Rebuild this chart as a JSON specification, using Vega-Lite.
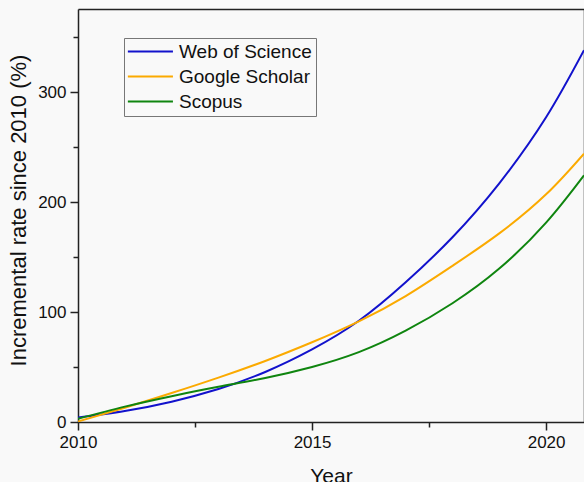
{
  "$schema": "https://vega.github.io/schema/vega-lite/v6.json",
  "width": 506,
  "height": 413,
  "autosize": {"type": "none"},
  "padding": {"left": 78, "top": 9, "right": 0, "bottom": 60},
  "background": "#f9f9f9",
  "config": {
    "view": {"stroke": null},
    "font": "Liberation Sans",
    "axis": {"grid": false, "domainColor": "#222222", "tickColor": "#222222", "domainWidth": 1.5, "tickWidth": 1.5, "labelColor": "#111111", "titleColor": "#111111", "labelFont": "Liberation Sans", "titleFont": "Liberation Sans", "titleFontWeight": "normal"}
  },
  "data": {
    "values": [
      {"year": 2010, "source": "Web of Science", "value": 4},
      {"year": 2011, "source": "Web of Science", "value": 10},
      {"year": 2012, "source": "Web of Science", "value": 18.5},
      {"year": 2013, "source": "Web of Science", "value": 30},
      {"year": 2014, "source": "Web of Science", "value": 45.5},
      {"year": 2015, "source": "Web of Science", "value": 66},
      {"year": 2016, "source": "Web of Science", "value": 92},
      {"year": 2017, "source": "Web of Science", "value": 127},
      {"year": 2018, "source": "Web of Science", "value": 168},
      {"year": 2019, "source": "Web of Science", "value": 217},
      {"year": 2020, "source": "Web of Science", "value": 277},
      {"year": 2020.81, "source": "Web of Science", "value": 338},
      {"year": 2010, "source": "Google Scholar", "value": 0.5},
      {"year": 2011, "source": "Google Scholar", "value": 13},
      {"year": 2012, "source": "Google Scholar", "value": 26.3},
      {"year": 2013, "source": "Google Scholar", "value": 40.3},
      {"year": 2014, "source": "Google Scholar", "value": 55.5},
      {"year": 2015, "source": "Google Scholar", "value": 72.5},
      {"year": 2016, "source": "Google Scholar", "value": 91.5},
      {"year": 2017, "source": "Google Scholar", "value": 114.5},
      {"year": 2018, "source": "Google Scholar", "value": 142},
      {"year": 2019, "source": "Google Scholar", "value": 171.5},
      {"year": 2020, "source": "Google Scholar", "value": 207},
      {"year": 2020.81, "source": "Google Scholar", "value": 244},
      {"year": 2010, "source": "Scopus", "value": 3},
      {"year": 2011, "source": "Scopus", "value": 14},
      {"year": 2012, "source": "Scopus", "value": 23.5},
      {"year": 2013, "source": "Scopus", "value": 32},
      {"year": 2014, "source": "Scopus", "value": 40},
      {"year": 2015, "source": "Scopus", "value": 50},
      {"year": 2016, "source": "Scopus", "value": 63.5},
      {"year": 2017, "source": "Scopus", "value": 83},
      {"year": 2018, "source": "Scopus", "value": 108},
      {"year": 2019, "source": "Scopus", "value": 139.5},
      {"year": 2020, "source": "Scopus", "value": 181.3},
      {"year": 2020.81, "source": "Scopus", "value": 224.3}
    ]
  },
  "encoding": {
    "x": {"field": "year", "type": "quantitative", "scale": {"domain": [2010, 2020.81], "nice": false, "zero": false}},
    "y": {"field": "value", "type": "quantitative", "scale": {"domain": [0, 375.5], "nice": false}}
  },
  "layer": [
    {
      "mark": {"type": "line", "interpolate": "natural", "strokeWidth": 2, "clip": true},
      "encoding": {
        "x": {"field": "year", "type": "quantitative", "axis": {"orient": "bottom", "values": [2010, 2015, 2020], "format": "d", "labelFontSize": 17, "tickSize": 8, "labelPadding": 4, "title": "Year", "titleFontSize": 21, "titleY": 60, "titleBaseline": "alphabetic", "labelFlush": false}},
        "y": {"field": "value", "type": "quantitative", "axis": {"orient": "left", "values": [0, 100, 200, 300], "labelFontSize": 17, "tickSize": 8, "labelPadding": 4, "title": "Incremental rate since 2010 (%)", "titleFontSize": 22, "titleX": -53, "titleY": 201, "titleBaseline": "alphabetic", "titleAnchor": "middle"}},
        "color": {
          "field": "source", "type": "nominal",
          "scale": {"domain": ["Web of Science", "Google Scholar", "Scopus"], "range": ["#1212cc", "#fbaa00", "#0f850f"]},
          "legend": {"orient": "none", "legendX": 46, "legendY": 29, "title": null, "symbolType": "M-1,0H7", "symbolSize": 127, "symbolStrokeWidth": 2, "symbolOffset": -4, "labelFontSize": 19, "labelFont": "Liberation Sans", "labelColor": "#111111", "labelOffset": 36, "strokeColor": "#777777", "padding": 4, "rowPadding": 5, "fillColor": "#f9f9f9"}
        }
      }
    },
    {
      "mark": {"type": "point", "opacity": 0},
      "encoding": {
        "x": {"field": "year", "type": "quantitative", "axis": {"orient": "bottom", "values": [2012.5, 2017.5], "labels": false, "domain": false, "tickSize": 5, "title": null}},
        "y": {"field": "value", "type": "quantitative", "axis": {"orient": "left", "values": [50, 150, 250, 350], "labels": false, "domain": false, "tickSize": 5, "title": null}}
      }
    },
    {
      "mark": {"type": "point", "opacity": 0},
      "encoding": {
        "x": {"field": "year", "type": "quantitative", "axis": {"orient": "top", "labels": false, "ticks": false, "domain": true, "title": null}}
      }
    }
  ],
  "resolve": {"axis": {"x": "independent", "y": "independent"}}
}
